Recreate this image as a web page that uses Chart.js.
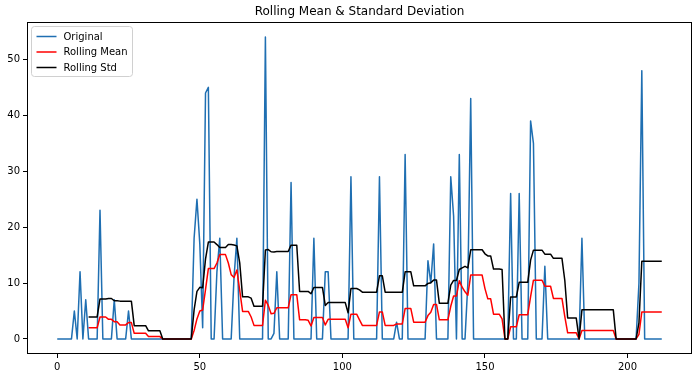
<!DOCTYPE html>
<html>
<head>
<meta charset="utf-8">
<script src="https://cdn.jsdelivr.net/npm/chart.js@4.4.1/dist/chart.umd.min.js"></script>
<style>
  html, body { margin: 0; padding: 0; background: #fff; }
  #c { display: block; }
</style>
</head>
<body>
<canvas id="c" width="700" height="378"></canvas>
<script>
// values, one per x step (0..212)
var original = [
  0, 0, 0, 0, 0, 0, 5, 0, 12, 0,
  7, 0, 0, 0, 0, 23, 0, 0, 0, 0,
  7, 0, 0, 0, 0, 5, 0, 0, 0, 0,
  0, 0, 0, 0, 0, 0, 0, 0, 0, 0,
  0, 0, 0, 0, 0, 0, 0, 0, 18, 25,
  17, 2, 44, 45, 0, 0, 12, 18, 0, 0,
  0, 0, 11, 18, 0, 0, 0, 0, 0, 0,
  0, 0, 0, 54, 0, 0, 1, 12, 0, 0,
  0, 0, 28, 0, 0, 0, 0, 0, 0, 0,
  18, 0, 0, 0, 12, 12, 0, 0, 0, 0,
  0, 0, 0, 29, 0, 0, 0, 0, 0, 0,
  0, 0, 0, 29, 0, 0, 0, 0, 0, 3,
  0, 0, 33, 0, 0, 0, 0, 0, 0, 0,
  14, 10, 17, 0, 0, 0, 0, 0, 29, 22,
  0, 33, 0, 0, 10, 43, 0, 0, 0, 0,
  0, 0, 0, 0, 0, 0, 0, 0, 0, 26,
  0, 0, 26, 0, 0, 0, 39, 35, 0, 0,
  0, 13, 0, 0, 0, 0, 0, 0, 0, 0,
  0, 0, 0, 0, 18, 0, 0, 0, 0, 0,
  0, 0, 0, 0, 0, 0, 0, 0, 0, 0,
  0, 0, 0, 0, 10, 48, 0, 0, 0, 0,
  0, 0, 0
];

var rollingMean = [
  null, null, null, null, null, null, null, null, null, null,
  null, 2.0, 2.0, 2.0, 2.0, 3.92, 3.92, 3.92, 3.5, 3.5,
  3.08, 3.08, 2.5, 2.5, 2.5, 2.92, 2.92, 1.0, 1.0, 1.0,
  1.0, 1.0, 0.42, 0.42, 0.42, 0.42, 0.42, 0, 0, 0,
  0, 0, 0, 0, 0, 0, 0, 0, 1.5, 3.58,
  5.0, 5.17, 8.83, 12.58, 12.58, 12.58, 13.58, 15.08, 15.08, 15.08,
  13.58, 11.5, 11.0, 12.33, 8.67, 4.92, 4.92, 4.92, 3.92, 2.42,
  2.42, 2.42, 2.42, 6.92, 6.0, 4.5, 4.58, 5.58, 5.58, 5.58,
  5.58, 5.58, 7.92, 7.92, 7.92, 3.42, 3.42, 3.42, 3.33, 2.33,
  3.83, 3.83, 3.83, 3.83, 2.5, 3.5, 3.5, 3.5, 3.5, 3.5,
  3.5, 3.5, 2.0, 4.42, 4.42, 4.42, 3.42, 2.42, 2.42, 2.42,
  2.42, 2.42, 2.42, 4.83, 4.83, 2.42, 2.42, 2.42, 2.42, 2.67,
  2.67, 2.67, 5.42, 5.42, 5.42, 3.0, 3.0, 3.0, 3.0, 3.0,
  4.17, 4.75, 6.17, 6.17, 3.42, 3.42, 3.42, 3.42, 5.83, 7.67,
  7.67, 10.42, 9.25, 8.42, 7.83, 11.42, 11.42, 11.42, 11.42, 11.42,
  9.0, 7.17, 7.17, 4.42, 4.42, 4.42, 3.58, 0, 0, 2.17,
  2.17, 2.17, 4.33, 4.33, 4.33, 4.33, 7.58, 10.5, 10.5, 10.5,
  10.5, 9.42, 9.42, 9.42, 7.25, 7.25, 7.25, 7.25, 4.0, 1.08,
  1.08, 1.08, 1.08, 0, 1.5, 1.5, 1.5, 1.5, 1.5, 1.5,
  1.5, 1.5, 1.5, 1.5, 1.5, 1.5, 0, 0, 0, 0,
  0, 0, 0, 0, 0.83, 4.83, 4.83, 4.83, 4.83, 4.83,
  4.83, 4.83, 4.83
];

var rollingStd = [
  null, null, null, null, null, null, null, null, null, null,
  null, 3.93, 3.93, 3.93, 3.93, 7.15, 7.15, 7.15, 7.23, 7.23,
  6.83, 6.83, 6.76, 6.76, 6.76, 6.75, 6.75, 2.37, 2.37, 2.37,
  2.37, 2.37, 1.44, 1.44, 1.44, 1.44, 1.44, 0, 0, 0,
  0, 0, 0, 0, 0, 0, 0, 0, 5.2, 8.5,
  9.23, 9.15, 14.28, 17.33, 17.33, 17.33, 16.88, 16.35, 16.35, 16.35,
  16.88, 16.88, 16.79, 16.65, 13.61, 7.53, 7.53, 7.53, 7.29, 5.84,
  5.84, 5.84, 5.84, 15.92, 15.98, 15.59, 15.57, 15.63, 15.63, 15.63,
  15.63, 15.63, 16.77, 16.77, 16.77, 8.47, 8.47, 8.47, 8.5, 8.08,
  9.2, 9.2, 9.2, 9.2, 5.98, 6.5, 6.5, 6.5, 6.5, 6.5,
  6.5, 6.5, 4.67, 9.02, 9.02, 9.02, 8.76, 8.37, 8.37, 8.37,
  8.37, 8.37, 8.37, 11.29, 11.29, 8.37, 8.37, 8.37, 8.37, 8.34,
  8.34, 8.34, 12.01, 12.01, 12.01, 9.49, 9.49, 9.49, 9.49, 9.49,
  9.93, 10.06, 10.52, 10.52, 6.36, 6.36, 6.36, 6.36, 9.62, 10.47,
  10.47, 12.42, 12.71, 12.98, 12.71, 15.95, 15.95, 15.95, 15.95, 15.95,
  15.23, 14.84, 14.84, 12.49, 12.49, 12.49, 12.41, 0, 0, 7.51,
  7.51, 7.51, 10.12, 10.12, 10.12, 10.12, 14.09, 15.88, 15.88, 15.88,
  15.88, 15.16, 15.16, 15.16, 14.41, 14.41, 14.41, 14.41, 10.45, 3.75,
  3.75, 3.75, 3.75, 0, 5.2, 5.2, 5.2, 5.2, 5.2, 5.2,
  5.2, 5.2, 5.2, 5.2, 5.2, 5.2, 0, 0, 0, 0,
  0, 0, 0, 0, 2.89, 13.9, 13.9, 13.9, 13.9, 13.9,
  13.9, 13.9, 13.9
];

var xTicks = [0, 50, 100, 150, 200];
var yTicks = [0, 10, 20, 30, 40, 50];
var seriesNames = ['Original', 'Rolling Mean', 'Rolling Std'];
var seriesColors = ['#1f6fb2', '#ff0000', '#000000'];

var FONT = "'DejaVu Sans', 'Liberation Sans', sans-serif";

function points(arr) {
  return arr.map(function (v, i) { return { x: i, y: v }; });
}

// title, frame and the boxed legend in the top left, matplotlib style
var decor = {
  id: 'decor',
  afterDraw: function (chart) {
    var ctx = chart.ctx, a = chart.chartArea;
    ctx.save();

    ctx.strokeStyle = '#000';
    ctx.lineWidth = 1;
    ctx.strokeRect(Math.round(a.left) + 0.5, Math.round(a.top) + 0.5,
      Math.round(a.right - a.left) - 1, Math.round(a.bottom - a.top) - 1);

    ctx.fillStyle = '#000';
    ctx.font = '12px ' + FONT;
    ctx.textAlign = 'center';
    ctx.textBaseline = 'middle';
    ctx.fillText('Rolling Mean & Standard Deviation', (a.left + a.right) / 2, 12);

    var bx = a.left + 4.5, by = a.top + 4.5, bw = 101, bh = 50, r = 3;
    ctx.beginPath();
    ctx.moveTo(bx + r, by);
    ctx.arcTo(bx + bw, by, bx + bw, by + bh, r);
    ctx.arcTo(bx + bw, by + bh, bx, by + bh, r);
    ctx.arcTo(bx, by + bh, bx, by, r);
    ctx.arcTo(bx, by, bx + bw, by, r);
    ctx.closePath();
    ctx.fillStyle = 'rgba(255,255,255,0.8)';
    ctx.fill();
    ctx.strokeStyle = '#d0d0d0';
    ctx.stroke();

    ctx.font = '10px ' + FONT;
    ctx.textAlign = 'left';
    seriesNames.forEach(function (name, i) {
      var y = by + 10 + i * 15.5;
      ctx.strokeStyle = seriesColors[i];
      ctx.lineWidth = 1.5;
      ctx.beginPath();
      ctx.moveTo(bx + 5, y);
      ctx.lineTo(bx + 25, y);
      ctx.stroke();
      ctx.fillStyle = '#000';
      ctx.fillText(name, bx + 32, y + 0.5);
    });
    ctx.restore();
  }
};

function axisTicks(values) {
  return function (scale) {
    scale.ticks = values.map(function (v) { return { value: v }; });
  };
}

var tickStyle = { font: { family: FONT, size: 10 }, color: '#000', padding: 3, maxRotation: 0, autoSkip: false };
var gridStyle = { drawOnChartArea: false, drawTicks: true, tickLength: 4, tickColor: '#000', tickWidth: 1 };

new Chart(document.getElementById('c'), {
  type: 'line',
  data: {
    datasets: [
      { label: seriesNames[0], data: points(original), borderColor: seriesColors[0], order: 3 },
      { label: seriesNames[1], data: points(rollingMean), borderColor: seriesColors[1], order: 2 },
      { label: seriesNames[2], data: points(rollingStd), borderColor: seriesColors[2], order: 1 }
    ]
  },
  options: {
    responsive: false,
    animation: false,
    devicePixelRatio: 1,
    layout: { padding: { top: 22, right: 8, bottom: 0, left: 0 } },
    elements: {
      line: { borderWidth: 1.5, tension: 0, fill: false, borderJoinStyle: 'round' },
      point: { radius: 0, hoverRadius: 0 }
    },
    plugins: { legend: { display: false }, tooltip: { enabled: false }, title: { display: false } },
    scales: {
      x: {
        type: 'linear', min: -10.6, max: 222.6,
        afterBuildTicks: axisTicks(xTicks),
        afterFit: function (s) { s.height = 24; },
        grid: gridStyle, border: { display: false }, ticks: tickStyle
      },
      y: {
        type: 'linear', min: -2.7, max: 56.7,
        afterBuildTicks: axisTicks(yTicks),
        afterFit: function (s) { s.width = 27; },
        grid: gridStyle, border: { display: false }, ticks: tickStyle
      }
    }
  },
  plugins: [decor]
});
</script>
</body>
</html>
